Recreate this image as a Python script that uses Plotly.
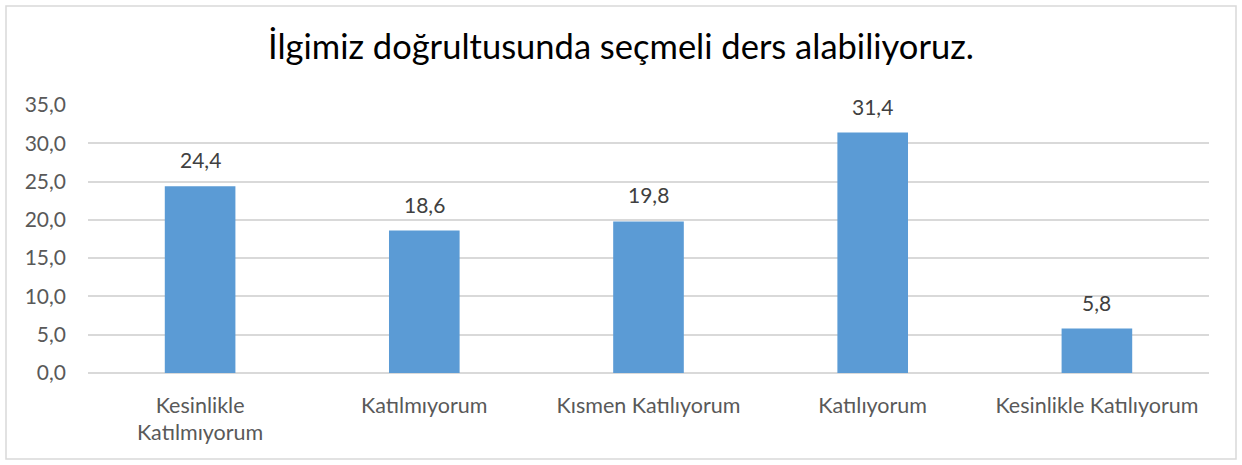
import plotly.graph_objects as go

# Chart data
categories = ["Kesinlikle<br>Katılmıyorum", "Katılmıyorum", "Kısmen Katılıyorum",
              "Katılıyorum", "Kesinlikle Katılıyorum"]
values = [24.4, 18.6, 19.8, 31.4, 5.8]
y_ticks = [0, 5, 10, 15, 20, 25, 30, 35]
y_tick_labels = ["0,0", "5,0", "10,0", "15,0", "20,0", "25,0", "30,0", "35,0"]

W, H = 1242, 465
L, R, T, B = 88, 33, 105, 92
pw, ph = W - L - R, H - T - B

fig = go.Figure(go.Bar(
    x=categories,
    y=values,
    marker=dict(color="#5B9BD5", line=dict(width=0)),
    cliponaxis=False,
    width=0.315,
))

# value labels above the bars
for c, v in zip(categories, values):
    fig.add_annotation(x=c, y=v, text=f"{v:.1f}".replace(".", ","),
                       showarrow=False, yanchor="bottom", yshift=12,
                       font=dict(family="Lato", size=21, color="#404040"))

# outer chart border
fig.add_shape(type="rect", xref="paper", yref="paper",
              x0=(6 - L) / pw, x1=(1236 - L) / pw,
              y0=(H - B - 459) / ph, y1=(H - B - 6) / ph,
              line=dict(color="#D9D9D9", width=1.5), layer="below")

fig.update_layout(
    width=W, height=H,
    margin=dict(l=L, r=R, t=T, b=B),
    paper_bgcolor="white", plot_bgcolor="white",
    font=dict(family="Lato", color="#595959", size=21),
    title=dict(text="İlgimiz doğrultusunda seçmeli ders alabiliyoruz.",
               x=0.5, xanchor="center", y=1 - 47 / H, yanchor="middle",
               font=dict(size=34.5, color="#000000")),
    showlegend=False,
    xaxis=dict(showgrid=False, showline=False, ticks="",
               ticklabelstandoff=17,
               tickfont=dict(size=21.5, color="#595959")),
    yaxis=dict(range=[0, 35], tickvals=y_ticks, ticktext=y_tick_labels,
               showgrid=True, gridcolor="#D9D9D9", gridwidth=1.5,
               zeroline=True, zerolinecolor="#D9D9D9", zerolinewidth=1.5,
               showline=False, ticks="", ticklabelstandoff=21,
               tickfont=dict(size=21, color="#595959")),
)

fig.write_html("out.html", config={"displayModeBar": False},
               post_script="document.body.style.margin='0';")
